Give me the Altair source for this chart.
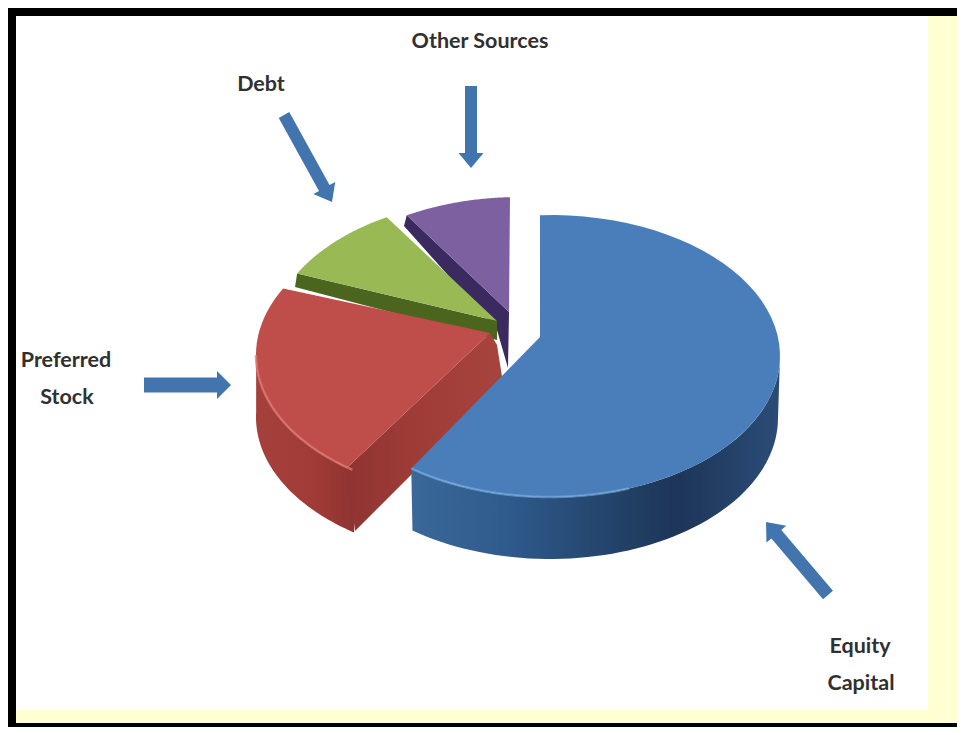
import math
import altair as alt
import pandas as pd

# ---- chart values ----
labels = ["Equity Capital", "Preferred Stock", "Debt", "Other Sources"]
shares = [61, 22.5, 9, 7.5]
start_angle = -2.5

W, H = 949, 719
X0, Y0 = 8, 8
xs = alt.Scale(domain=[X0, X0 + W], nice=False, zero=False)
ys = alt.Scale(domain=[Y0 + H, Y0], nice=False, zero=False)

A, B = 230, 141
# per-slice layout (explosion centre, apex)
layout = {
    "Equity Capital": dict(c=(550, 356), apex=(540, 337), top="#4a7ebb", dark="#2f5a8c"),
    "Preferred Stock": dict(c=(486, 355), apex=(490, 333), top="#bf4d49", dark="#9c3a36"),
    "Debt": dict(c=(500, 340), apex=(497, 321), top="#98b954", dark="#4b651f"),
    "Other Sources": dict(c=(520, 338), apex=(509, 312), top="#7d60a0", dark="#3a2a60"),
}

angles = {}
a = start_angle
for name, s in zip(labels, shares):
    angles[name] = (a, a + s * 3.6)
    a += s * 3.6


def arc(c, t0, t1, dy=0, shrink=0, n=60):
    pts = []
    for i in range(n + 1):
        t = math.radians(t0 + (t1 - t0) * i / n)
        pts.append((c[0] + (A - shrink) * math.sin(t), c[1] + dy - B * math.cos(t)))
    return pts


def grad(*stops):
    return alt.Gradient(
        gradient="linear", x1=0, x2=1, y1=0, y2=0,
        stops=[alt.GradientStop(color=c, offset=o) for o, c in stops],
    )


def poly(pts, fill, opacity=1):
    df = pd.DataFrame({"x": [p[0] for p in pts], "y": [p[1] for p in pts], "i": range(len(pts))})
    return alt.Chart(df).mark_line(
        fill=fill, strokeWidth=0, interpolate="linear-closed", fillOpacity=opacity
    ).encode(
        x=alt.X("x:Q", scale=xs, axis=None),
        y=alt.Y("y:Q", scale=ys, axis=None),
        order="i:Q",
    )


def rim(pts, color, width=2.5, opacity=0.8):
    df = pd.DataFrame({"x": [p[0] for p in pts], "y": [p[1] for p in pts], "i": range(len(pts))})
    return alt.Chart(df).mark_line(color=color, strokeWidth=width, opacity=opacity).encode(
        x=alt.X("x:Q", scale=xs, axis=None),
        y=alt.Y("y:Q", scale=ys, axis=None),
        order="i:Q",
    )


def arrow(tail, tip, w, hw, hl, color="#4275ae"):
    dx, dy = tip[0] - tail[0], tip[1] - tail[1]
    L = math.hypot(dx, dy)
    ux, uy = dx / L, dy / L
    px, py = -uy, ux
    bx, by = tip[0] - ux * hl, tip[1] - uy * hl
    pts = [
        (tail[0] + px * w / 2, tail[1] + py * w / 2),
        (bx + px * w / 2, by + py * w / 2),
        (bx + px * hw / 2, by + py * hw / 2),
        tip,
        (bx - px * hw / 2, by - py * hw / 2),
        (bx - px * w / 2, by - py * w / 2),
        (tail[0] - px * w / 2, tail[1] - py * w / 2),
    ]
    return poly(pts, color)


def box(x, x2, y, y2, color):
    d = pd.DataFrame({"a": [0]})
    return alt.Chart(d).mark_rect(color=color).encode(
        x=alt.value(x - X0), x2=alt.value(x2 - X0), y=alt.value(y - Y0), y2=alt.value(y2 - Y0)
    )


def text(s, x, y, size=21.5):
    d = pd.DataFrame({"t": [s]})
    return alt.Chart(d).mark_text(
        font="Lato", fontWeight="bold", fontSize=size, color="#303030", align="center", baseline="middle"
    ).encode(text="t:N", x=alt.value(x - X0), y=alt.value(y - Y0 + 2))


layers = [
    box(16, 928, 16, 710, "#ffffff"),
    box(8, 957, 8, 16, "#000000"),
    box(8, 16, 8, 727, "#000000"),
    box(8, 957, 723, 727, "#000000"),
]

# ---- Other Sources ----
L = layout["Other Sources"]
t0, t1 = angles["Other Sources"]
top = arc(L["c"], t0, t1)
layers.append(poly([top[0], (404, 226), (497, 330), (508, 368), L["apex"]], L["dark"]))
layers.append(poly(top + [L["apex"]], L["top"]))

# ---- Debt ----
L = layout["Debt"]
t0, t1 = angles["Debt"]
top = arc(L["c"], t0, t1)
layers.append(poly([top[0], (295, 287), (497, 340), L["apex"]], L["dark"]))
layers.append(poly(top + [L["apex"]], L["top"]))

# ---- Preferred Stock ----
L = layout["Preferred Stock"]
t0, t1 = angles["Preferred Stock"]
top = arc(L["c"], t0, t1)
low = arc(L["c"], 215, 272, dy=62)
wall_top = arc(L["c"], 215, 272)
layers.append(poly(wall_top + low[::-1], grad((0, "#a5403b"), (0.6, "#a03b37"), (1, "#8f3330"))))
layers.append(poly([top[0], L["apex"], (497, 345), (503, 383), (355, 531)],
                   grad((0, "#8f3431"), (0.4, "#9d3b37"), (1, "#a8443d"))))
layers.append(poly(top + [L["apex"]], L["top"]))
layers.append(rim(arc(L["c"], 215.5, 270), "#dd7a74", 2.5, 0.75))

# ---- Equity Capital ----
L = layout["Equity Capital"]
t0, t1 = angles["Equity Capital"]
top = arc(L["c"], t0, t1)
wall_top = arc(L["c"], 90, t1)
low = arc(L["c"], 90, t1, dy=62, shrink=2)
layers.append(poly(wall_top + low[::-1],
                   grad((0, "#3a6899"), (0.25, "#2f5b8d"), (0.5, "#25476f"), (0.72, "#1d3557"), (1, "#2b4c78"))))
layers.append(poly(top + [L["apex"]], L["top"]))
layers.append(rim(arc(L["c"], t1, 160), "#7fb0e6", 2.5, 0.6))

# ---- arrows ----
layers += [
    arrow((471, 86), (471, 168), 12, 25, 15),
    arrow((284, 115), (332, 202), 12, 25, 16),
    arrow((144, 385), (231, 385), 15, 28, 14),
    arrow((828, 595), (766, 522), 13, 26, 16),
]

# ---- labels ----
layers += [
    text("Other Sources", 480, 40),
    text("Debt", 261, 83),
    text("Preferred", 66, 359),
    text("Stock", 67, 396),
    text("Equity", 860, 645),
    text("Capital", 861, 682),
]

chart = alt.layer(*layers).properties(
    width=W, height=H, padding=0, autosize="none", background="#ffffd2"
).configure_view(stroke=None)

chart.save("out.html", embed_options={"renderer": "svg", "actions": False})
